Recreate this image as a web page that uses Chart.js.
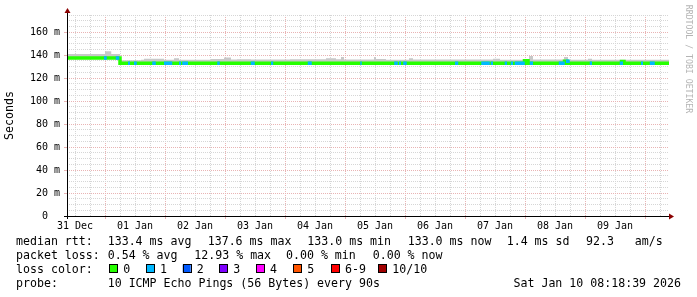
<!DOCTYPE html>
<html>
<head>
<meta charset="utf-8">
<script src="https://cdn.jsdelivr.net/npm/chart.js@4/dist/chart.umd.min.js"></script>
<style>
  html, body { margin: 0; padding: 0; background: #fff; }
  canvas { display: block; }
</style>
</head>
<body>
<canvas id="chart" width="697" height="297"></canvas>
<script>
// hours are counted from 31 Dec 00:00
const windowStart = 8.8
const windowEnd = 249.6

const dayLabels = ['31 Dec', '01 Jan', '02 Jan', '03 Jan', '04 Jan', '05 Jan', '06 Jan', '07 Jan', '08 Jan', '09 Jan']
const dayNoonHours = [12, 36, 60, 84, 108, 132, 156, 180, 204, 228]

// median rtt (ms), as runs: value holds from start to next start
const medianStart = [8.8, 30.0, 191.8, 193.2, 207.8, 208.8, 230.6, 231.6]
const medianValue = [137.6, 133.1, 135.2, 133.1, 134.8, 133.1, 134.6, 133.1]

// top of the smoke (ms), as runs
const smokeStart = [8.8, 24.0, 26.5, 30.0, 38.4, 39.6, 47.6, 51.6, 53.6, 66.4, 71.6, 74.4, 76.8, 82.4, 98.0, 112.4,
  116.4, 118.4, 119.6, 131.6, 132.4, 136.4, 145.6, 147.2, 179.2, 182.0, 193.6, 195.2, 207.6, 209.2, 217.2, 218.8]
const smokeTop = [141.0, 143.4, 141.0, 135.7, 136.0, 136.9, 136.0, 137.4, 136.0, 136.6, 137.9, 136.2, 136.4, 136.2, 136.4, 137.4,
  136.4, 138.4, 136.3, 138.4, 136.6, 136.1, 137.4, 136.2, 137.0, 136.1, 139.4, 136.2, 138.4, 136.1, 137.0, 136.1]

// spans with 1/10 packets lost
const lossStart = [23.6, 28.3, 33.2, 35.6, 42.9, 47.6, 53.6, 54.9, 68.9, 82.3, 90.4, 105.1, 126.1, 139.7, 141.6,
  143.3, 164.0, 174.5, 178.3, 183.9, 186.3, 187.9, 193.9, 205.5, 208.4, 217.9, 229.9, 238.4, 241.9]
const lossEnd = [24.7, 29.7, 34.0, 36.7, 44.3, 50.9, 54.4, 57.2, 69.9, 83.9, 91.3, 106.7, 126.7, 141.1, 142.4,
  144.7, 165.3, 177.9, 179.2, 184.8, 187.2, 191.9, 195.2, 207.9, 209.9, 218.8, 231.2, 239.2, 243.9]

const lossColors = ['#26ff00', '#00b8ff', '#0059ff', '#7e00ff', '#ff00ff', '#ff5500', '#ff0000', '#a10000']
const lossLabels = ['0', '1', '2', '3', '4', '5', '6-9', '10/10']

const statsRtt = ['133.4 ms avg', '137.6 ms max', '133.0 ms min', '133.0 ms now', '1.4 ms sd', '92.3   am/s']
const statsLoss = ['0.54 % avg', '12.93 % max', '0.00 % min', '0.00 % now']
const probeText = '10 ICMP Echo Pings (56 Bytes) every 90s'
const stampText = 'Sat Jan 10 08:18:39 2026'

const MONO = '"DejaVu Sans Mono", "Liberation Mono", monospace'
const MAJOR = '#e9b4b4'
const MINOR = '#d6d6d6'

function runPoints (starts, values, end) {
  const pts = []
  starts.forEach((s, i) => {
    const e = i + 1 < starts.length ? starts[i + 1] : end
    pts.push({ x: s, y: values[i] }, { x: e, y: values[i] })
  })
  return pts
}

function medianAt (h) {
  let v = medianValue[0]
  medianStart.forEach((s, i) => { if (s <= h) v = medianValue[i] })
  return v
}

const lossPoints = []
lossStart.forEach((s, i) => {
  const m = medianAt(s)
  lossPoints.push({ x: s, y: m }, { x: lossEnd[i], y: m }, { x: lossEnd[i], y: null })
})

const xGrid = []
for (let h = 12; h < windowEnd; h += 6) xGrid.push(h)
const yGrid = []
for (let v = 0; v <= 175; v += 5) yGrid.push(v)

const decor = {
  id: 'decor',
  afterDraw (chart) {
    const ctx = chart.ctx
    const a = chart.chartArea
    ctx.save()
    // axes
    ctx.strokeStyle = '#000'
    ctx.lineWidth = 1
    ctx.beginPath()
    ctx.moveTo(a.left + 0.5, a.bottom + 3)
    ctx.lineTo(a.left + 0.5, a.top - 2)
    ctx.moveTo(a.left - 3, a.bottom + 0.5)
    ctx.lineTo(a.right + 1, a.bottom + 0.5)
    ctx.stroke()
    ctx.fillStyle = '#8b0000'
    ctx.beginPath()
    ctx.moveTo(a.left - 2.5, a.top - 2)
    ctx.lineTo(a.left + 3.5, a.top - 2)
    ctx.lineTo(a.left + 0.5, a.top - 7)
    ctx.fill()
    ctx.beginPath()
    ctx.moveTo(a.right, a.bottom - 2.5)
    ctx.lineTo(a.right, a.bottom + 3.5)
    ctx.lineTo(a.right + 5, a.bottom + 0.5)
    ctx.fill()

    // axis title
    ctx.fillStyle = '#000'
    ctx.font = '11.6px ' + MONO
    ctx.textAlign = 'center'
    ctx.textBaseline = 'middle'
    ctx.save()
    ctx.translate(10, (a.top + a.bottom) / 2)
    ctx.rotate(-Math.PI / 2)
    ctx.fillText('Seconds', 0, 0)
    ctx.restore()

    // watermark
    ctx.save()
    ctx.fillStyle = '#b4b4b4'
    ctx.font = '8.2px ' + MONO
    ctx.translate(688, 59)
    ctx.rotate(Math.PI / 2)
    ctx.fillText('RRDTOOL / TOBI OETIKER', 0, 0)
    ctx.restore()

    // legend
    ctx.textAlign = 'left'
    ctx.textBaseline = 'alphabetic'
    ctx.fillStyle = '#000'
    ctx.fillText('median rtt:', 16, 245)
    const rttX = [107.7, 207.7, 307.3, 407.7, 506.7, 586]
    statsRtt.forEach((t, i) => ctx.fillText(t, rttX[i], 245))
    ctx.fillText('packet loss:', 16, 259)
    const lossX = [107.7, 194.3, 286, 372.7]
    statsLoss.forEach((t, i) => ctx.fillText(t, lossX[i], 259))
    ctx.fillText('loss color:', 16, 273)
    const boxX = [109.3, 146, 182.7, 219.3, 256, 293.3, 331, 378.3]
    lossLabels.forEach((t, i) => {
      ctx.fillStyle = lossColors[i]
      ctx.fillRect(boxX[i], 264.5, 8, 8)
      ctx.strokeStyle = '#000'
      ctx.strokeRect(Math.round(boxX[i]) + 0.5, 264.5, 8, 8)
      ctx.fillStyle = '#000'
      ctx.fillText(t, boxX[i] + 14, 273)
    })
    ctx.fillText('probe:', 16, 287)
    ctx.fillText(probeText, 107.7, 287)
    ctx.textAlign = 'right'
    ctx.fillText(stampText, 681, 287)
    ctx.restore()
  }
}

new Chart(document.getElementById('chart'), {
  type: 'line',
  data: {
    datasets: [
      {
        label: 'loss 1',
        data: lossPoints,
        borderColor: lossColors[1],
        borderWidth: 3.5,
        pointRadius: 0,
        fill: false,
        spanGaps: false
      },
      {
        label: 'median',
        data: runPoints(medianStart, medianValue, windowEnd),
        borderColor: lossColors[0],
        borderWidth: 3.5,
        pointRadius: 0,
        fill: false
      },
      {
        label: 'smoke',
        data: runPoints(smokeStart, smokeTop, windowEnd),
        borderWidth: 0,
        borderColor: 'rgba(0,0,0,0)',
        backgroundColor: '#c8c8c8',
        pointRadius: 0,
        fill: '-1'
      }
    ]
  },
  options: {
    responsive: false,
    animation: false,
    events: [],
    layout: { padding: { left: 0, top: 15, right: 28, bottom: 61 } },
    plugins: { legend: { display: false }, tooltip: { enabled: false } },
    scales: {
      x: {
        type: 'linear',
        min: windowStart,
        max: windowEnd,
        afterBuildTicks (scale) { scale.ticks = xGrid.map(v => ({ value: v })) },
        afterFit (scale) { scale.height = 20 },
        ticks: {
          autoSkip: false,
          maxRotation: 0,
          padding: 1,
          color: '#000',
          font: { family: MONO, size: 10 },
          callback (v) {
            const i = dayNoonHours.indexOf(v)
            return i >= 0 ? dayLabels[i] : ''
          }
        },
        grid: {
          lineWidth: 1,
          color: c => (c.tick && c.tick.value % 24 === 0 ? MAJOR : MINOR),
          tickLength: 3,
          tickColor: c => (c.tick && c.tick.value % 24 === 0 ? MAJOR : 'rgba(0,0,0,0)')
        },
        border: { display: false, dash: [1, 1] }
      },
      y: {
        type: 'linear',
        min: 0,
        max: 175,
        afterBuildTicks (scale) { scale.ticks = yGrid.map(v => ({ value: v })) },
        afterFit (scale) { scale.width = 67 },
        ticks: {
          autoSkip: false,
          padding: 4,
          color: '#000',
          font: { family: MONO, size: 10 },
          callback (v) {
            if (v % 20 !== 0) return ''
            return v === 0 ? '  0  ' : String(v).padStart(3, ' ') + ' m'
          }
        },
        grid: {
          lineWidth: 1,
          color: c => (c.tick && c.tick.value % 20 === 0 ? MAJOR : MINOR),
          tickLength: 3,
          tickColor: c => (c.tick && c.tick.value % 20 === 0 ? MAJOR : 'rgba(0,0,0,0)')
        },
        border: { display: false, dash: [1, 1] }
      }
    }
  },
  plugins: [decor]
})
</script>
</body>
</html>
